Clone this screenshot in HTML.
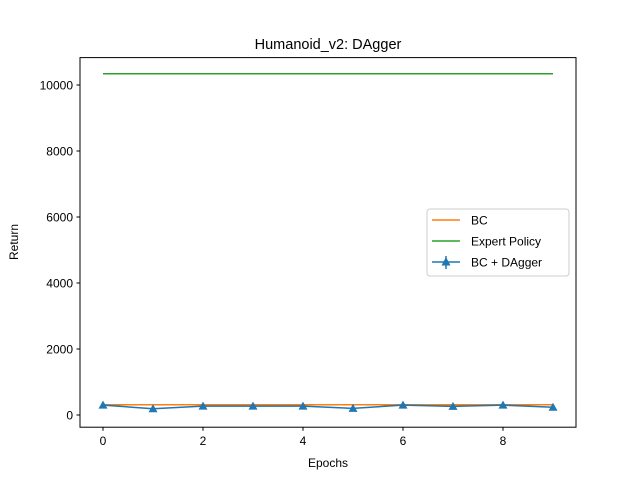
<!DOCTYPE html>
<html><head><meta charset="utf-8"><style>
body{margin:0;background:#fff}
svg{font-family:"Liberation Sans","DejaVu Sans",sans-serif}
</style></head><body>
<svg id="chart" width="640" height="480" xmlns="http://www.w3.org/2000/svg">
<rect width="640" height="480" fill="#fff"/>
<text x="328" y="49" font-size="14.5" text-anchor="middle">Humanoid_v2: DAgger</text>
<g id="plot"></g>
<rect x="80" y="57.6" width="496" height="369.6" fill="none" stroke="#000" stroke-width="1"/>
<text x="328" y="467" font-size="12" text-anchor="middle">Epochs</text>
<text x="18" y="242" font-size="12" text-anchor="middle" transform="rotate(-90 18 242)">Return</text>
<g>
<rect x="427" y="209" width="142" height="67" fill="#fff" stroke="#ccc" rx="3"/>
<g><line x1="432" y1="220" x2="460" y2="220" stroke="#ff7f0e" stroke-width="1.5"/><text x="471" y="224.5" font-size="12">BC</text></g>
<g><line x1="432" y1="241" x2="460" y2="241" stroke="#2ca02c" stroke-width="1.5"/><text x="471" y="245.5" font-size="12">Expert Policy</text></g>
<g><line x1="432" y1="262" x2="460" y2="262" stroke="#1f77b4" stroke-width="1.5"/><line x1="446" y1="256" x2="446" y2="269" stroke="#1f77b4" stroke-width="1.5"/><polygon points="446,257 450.5,265.5 441.5,265.5" fill="#1f77b4"/><text x="471" y="266.5" font-size="12">BC + DAgger</text></g>
</g>
</svg>
<script>
const epochs=[0,1,2,3,4,5,6,7,8,9];
const daggerValues=[300,190,270,270,270,200,300,260,300,235];
const bcValue=[310];
const expertValue=[10340];
const xTicks=[0,2,4,6,8];
const yTicks=[0,2000,4000,6000,8000,10000];
const NS="http://www.w3.org/2000/svg";
const X=v=>103+v*50;
const Y=v=>415-v*0.033;
const g=document.getElementById('plot');
function mk(t,a){const e=document.createElementNS(NS,t);for(const k in a)e.setAttribute(k,a[k]);g.appendChild(e);return e;}
xTicks.forEach(t=>{
 const l=mk('line',{x1:X(t),x2:X(t),y1:427.2,y2:430.7,stroke:'#000'});
 
 
 const s=mk('text',{x:X(t),y:445,'font-size':12,'text-anchor':'middle'});s.textContent=t;
 
 
});
yTicks.forEach(t=>{
 const l=mk('line',{x1:76.5,x2:80,y1:Y(t),y2:Y(t),stroke:'#000'});
 
 
 const s=mk('text',{x:73,y:Y(t)+4.5,'font-size':12,'text-anchor':'end'});s.textContent=t;
 
 
});
const bc=mk('line',{x1:X(epochs[0]),x2:X(epochs[epochs.length-1]),y1:Y(bcValue[0]),y2:Y(bcValue[0]),stroke:'#ff7f0e','stroke-width':1.5});


const ex=mk('line',{x1:X(epochs[0]),x2:X(epochs[epochs.length-1]),y1:Y(expertValue[0]),y2:Y(expertValue[0]),stroke:'#2ca02c','stroke-width':1.5});


const dl=mk('polyline',{points:epochs.map((e,i)=>X(e)+','+Y(daggerValues[i])).join(' '),fill:'none',stroke:'#1f77b4','stroke-width':1.5});


epochs.forEach((e,i)=>{
 const x=X(e),y=Y(daggerValues[i]);
 const p=mk('polygon',{points:`${x},${y-4.5} ${x+4.5},${y+3.5} ${x-4.5},${y+3.5}`,fill:'#1f77b4'});
 
 
});
</script>
</body></html>
